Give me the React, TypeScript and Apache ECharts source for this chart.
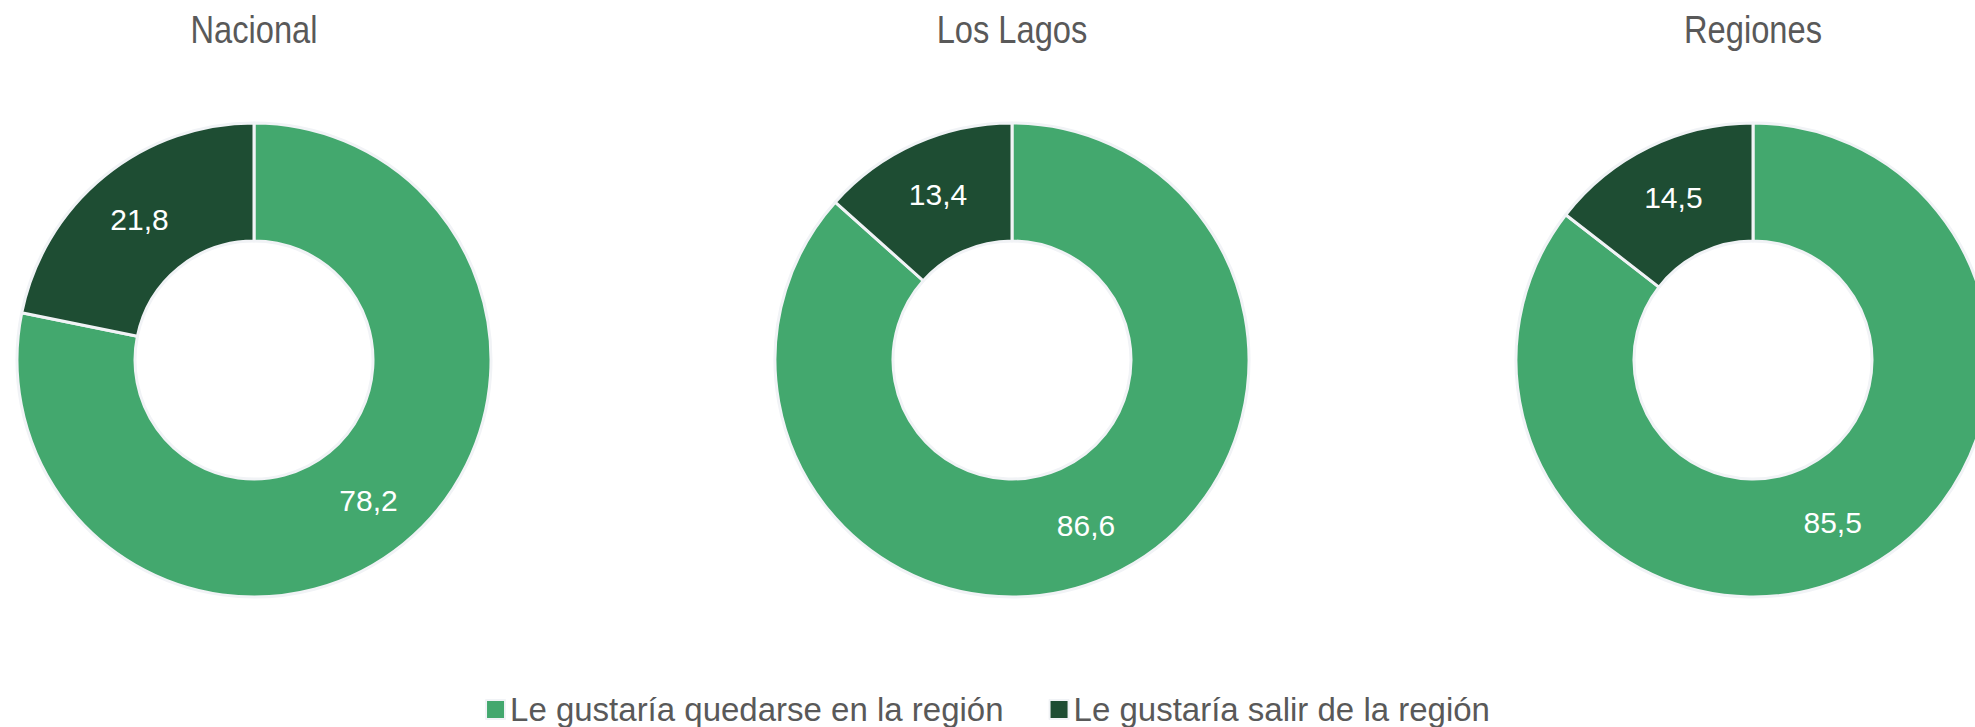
import React, { useEffect, useRef } from "react";
import * as echarts from "echarts";

const categories = ["Le gustaría quedarse en la región", "Le gustaría salir de la región"];
const groups = ["Nacional", "Los Lagos", "Regiones"];
const quedarse = [78.2, 86.6, 85.5];
const salir = [21.8, 13.4, 14.5];
const colors = ["#43A86E", "#1E4D33"];
const centersX = [254, 1012, 1753];

export default function App() {
  const ref = useRef<HTMLDivElement>(null);
  useEffect(() => {
    if (!ref.current) return;
    const chart = echarts.init(ref.current, undefined, { renderer: "svg" });
    const fmt = (p: any) => Number(p.value).toFixed(1).replace(".", ",");
    chart.setOption({
      animation: false,
      backgroundColor: "#ffffff",
      color: colors,
      graphic: groups.map((g, i) => ({
        type: "text",
        x: centersX[i],
        y: 30,
        scaleX: 0.86,
        silent: true,
        style: {
          text: g,
          fontFamily: "'Liberation Sans', Arial, sans-serif",
          fontSize: 38,
          fill: "#595959",
          align: "center",
          verticalAlign: "middle",
        },
      })),
      legend: {
        data: categories,
        left: "center",
        bottom: -4,
        icon: "rect",
        itemWidth: 19,
        itemHeight: 19,
        itemGap: 45,
        textStyle: {
          fontFamily: "'Liberation Sans', Arial, sans-serif",
          fontSize: 33,
          color: "#595959",
        },
      },
      series: groups.map((g, i) => ({
        type: "pie",
        name: g,
        center: [centersX[i], 360],
        radius: [119, 237],
        startAngle: 90,
        clockwise: true,
        avoidLabelOverlap: false,
        itemStyle: { borderColor: "#F1F3F6", borderWidth: 3 },
        label: {
          show: true,
          position: "inside",
          formatter: fmt,
          color: "#ffffff",
          fontSize: 30,
          fontFamily: "'Liberation Sans', Arial, sans-serif",
        },
        labelLine: { show: false },
        emphasis: { disabled: true },
        data: [
          { name: categories[0], value: quedarse[i] },
          { name: categories[1], value: salir[i] },
        ],
      })),
    });
    return () => chart.dispose();
  }, []);
  return (
    <div
      ref={ref}
      style={{ position: "fixed", left: 0, top: 0, width: 1975, height: 727 }}
    />
  );
}
